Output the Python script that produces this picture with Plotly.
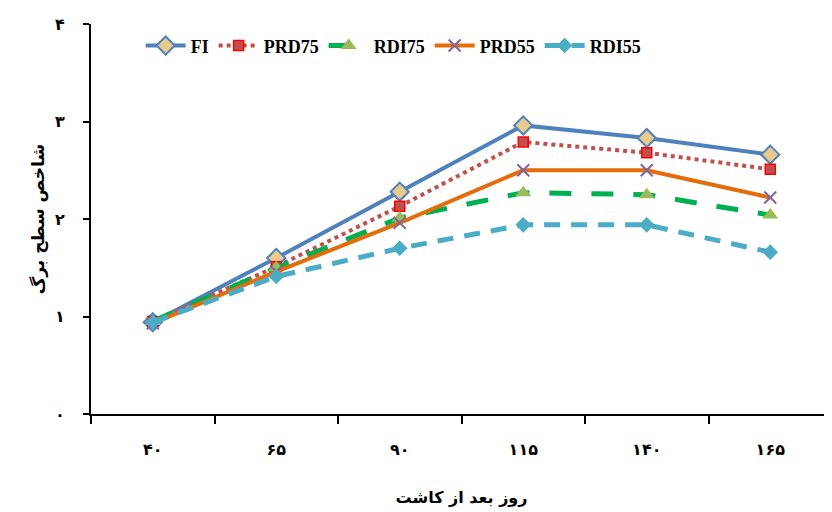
import plotly.graph_objects as go

categories = ["۴۰", "۶۵", "۹۰", "۱۱۵", "۱۴۰", "۱۶۵"]
FI = [0.94, 1.60, 2.28, 2.96, 2.83, 2.66]
PRD75 = [0.95, 1.51, 2.13, 2.79, 2.68, 2.51]
RDI75 = [0.95, 1.50, 2.01, 2.27, 2.25, 2.04]
PRD55 = [0.93, 1.46, 1.96, 2.50, 2.50, 2.22]
RDI55 = [0.94, 1.41, 1.70, 1.94, 1.94, 1.66]
y_ticks = [0, 1, 2, 3, 4]
y_tick_labels = ["۰", "۱", "۲", "۳", "۴"]

fig = go.Figure()
fig.add_trace(go.Scatter(x=categories, y=FI, name="FI", mode="lines+markers",
    line=dict(color="#4F81BD", width=4),
    marker=dict(symbol="diamond", size=14, color="#E8C98E", line=dict(color="#4F81BD", width=2))))
fig.add_trace(go.Scatter(x=categories, y=PRD75, name="PRD75", mode="lines+markers",
    line=dict(color="#C0504D", width=4, dash="dot"),
    marker=dict(symbol="square", size=10, color="#C0504D", line=dict(color="#FF0000", width=1.5))))
fig.add_trace(go.Scatter(x=categories, y=RDI75, name="RDI75", mode="lines+markers",
    line=dict(color="#00B050", width=5, dash="22px,20px"),
    marker=dict(symbol="triangle-up", size=14, color="#9BBB59")))
fig.add_trace(go.Scatter(x=categories, y=PRD55, name="PRD55", mode="lines+markers",
    line=dict(color="#E46C0A", width=4),
    marker=dict(symbol="x-thin-open", size=12, color="#8064A2", line=dict(color="#8064A2", width=2))))
fig.add_trace(go.Scatter(x=categories, y=RDI55, name="RDI55", mode="lines+markers",
    line=dict(color="#4BACC6", width=5, dash="16px,11px"),
    marker=dict(symbol="diamond", size=12, color="#4BACC6")))

fig.update_layout(
    width=832, height=512,
    margin=dict(l=83, r=8, t=16, b=106, autoexpand=False),
    plot_bgcolor="white", paper_bgcolor="white",
    font=dict(family="Liberation Serif", color="black"),
    legend=dict(orientation="h", x=0.067, y=0.944, xanchor="left", yanchor="middle",
                font=dict(family="Liberation Serif", size=18, color="black", weight="bold"),
                bgcolor="rgba(0,0,0,0)", itemwidth=40, tracegroupgap=0),
    xaxis=dict(type="category", range=[-0.5, 5.5], showline=True, linecolor="black", linewidth=2,
               ticks="outside", tickson="boundaries", ticklen=8, tickwidth=1.5, tickcolor="black",
               showgrid=False, ticklabelstandoff=20, automargin=False,
               tickfont=dict(family="DejaVu Sans", size=16, color="black", weight="bold"),
               title=dict(text="روز بعد از کاشت", standoff=34,
                          font=dict(family="DejaVu Sans", size=16, color="black", weight="bold"))),
    yaxis=dict(range=[0, 4], tickvals=y_ticks, ticktext=y_tick_labels, showline=True, linecolor="black",
               linewidth=2, ticks="outside", ticklen=6, tickwidth=1.5, tickcolor="black",
               showgrid=False, zeroline=False, ticklabelstandoff=15, automargin=False,
               tickfont=dict(family="DejaVu Sans", size=16, color="black", weight="bold"),
               title=dict(text="شاخص سطح برگ", standoff=6,
                          font=dict(family="DejaVu Sans", size=17, color="black", weight="bold"))),
)
fig.write_html("out.html")
